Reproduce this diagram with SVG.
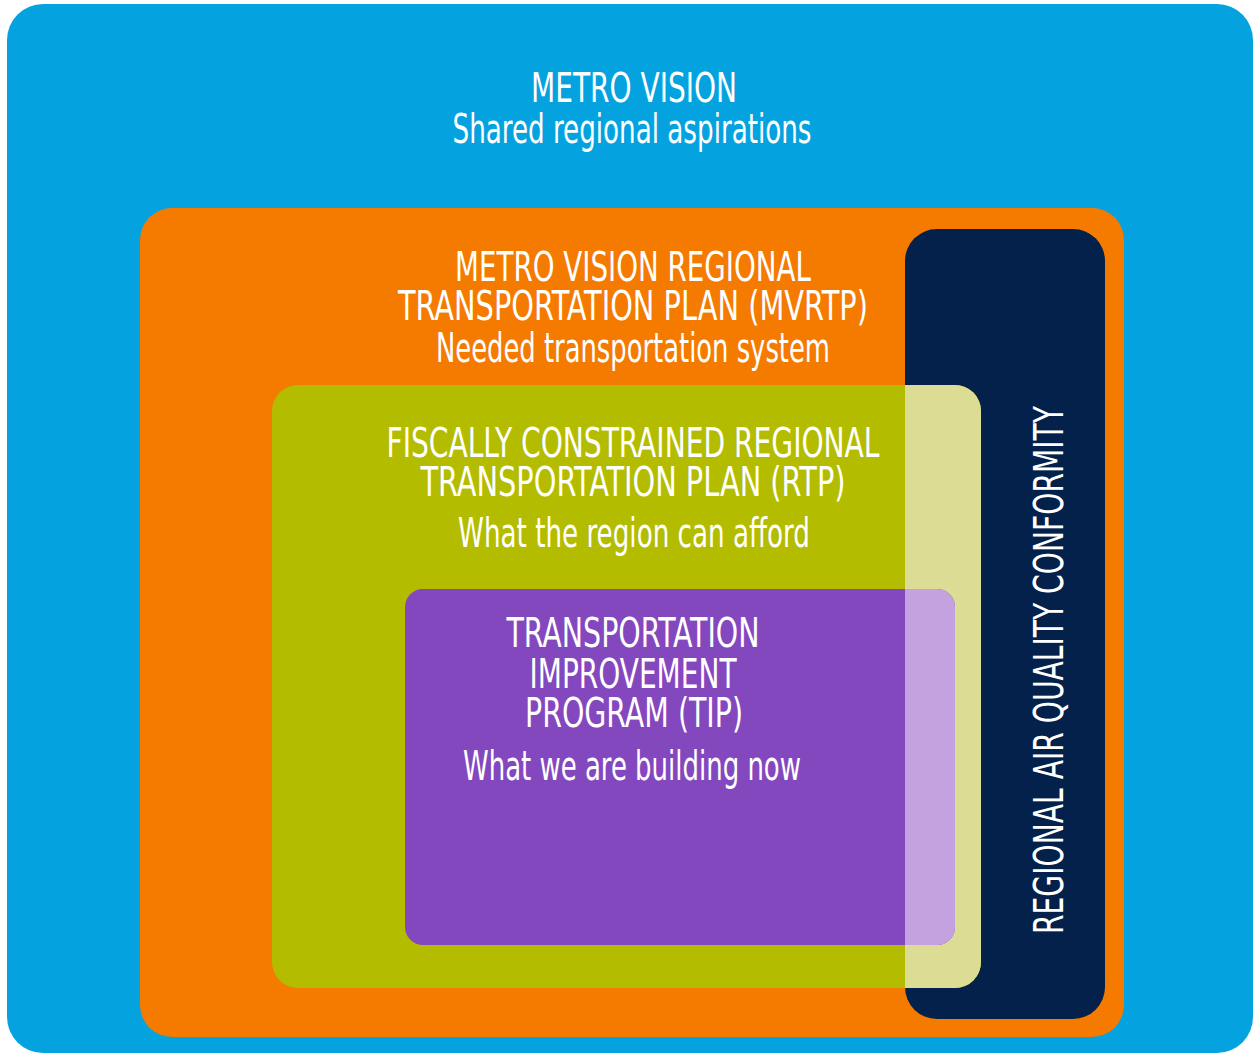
<svg xmlns="http://www.w3.org/2000/svg" width="1253" height="1053" viewBox="0 0 1253 1053">
  <style>
    .t { font-family: "Liberation Sans Narrow", "DejaVu Sans Condensed", "Liberation Sans", sans-serif; fill: #ffffff; text-anchor: middle; font-size: 41px; }
  </style>
  <defs>
    <clipPath id="navyClip">
      <rect x="905" y="229" width="200" height="790" rx="32" ry="32"/>
    </clipPath>
  </defs>
  <rect x="0" y="0" width="1253" height="1053" fill="#ffffff"/>
  <g id="metro-vision">
    <rect x="7" y="4" width="1246" height="1049" rx="36" ry="36" fill="#04A3E0"/>
    <text class="t"><tspan x="634" y="102" textLength="206" lengthAdjust="spacingAndGlyphs">METRO VISION</tspan><tspan x="632" y="143" textLength="359" lengthAdjust="spacingAndGlyphs">Shared regional aspirations</tspan></text>
  </g>
  <g id="mvrtp">
    <rect x="140" y="208" width="984" height="829" rx="32" ry="32" fill="#F57A00"/>
    <text class="t"><tspan x="633" y="281" textLength="356" lengthAdjust="spacingAndGlyphs">METRO VISION REGIONAL</tspan><tspan x="633" y="320" textLength="470" lengthAdjust="spacingAndGlyphs">TRANSPORTATION PLAN (MVRTP)</tspan><tspan x="633" y="362" textLength="394" lengthAdjust="spacingAndGlyphs">Needed transportation system</tspan></text>
  </g>
  <g id="air-quality">
    <rect x="905" y="229" width="200" height="790" rx="32" ry="32" fill="#03214B"/>
    <text class="t" transform="translate(1063,670) rotate(-90)" x="0" y="0" textLength="528" lengthAdjust="spacingAndGlyphs">REGIONAL AIR QUALITY CONFORMITY</text>
  </g>
  <g id="rtp">
    <rect x="272" y="385" width="709" height="603" rx="26" ry="26" fill="#B4BC00"/>
    <rect x="272" y="385" width="709" height="603" rx="26" ry="26" fill="#DCDC95" clip-path="url(#navyClip)"/>
    <text class="t"><tspan x="633" y="457" textLength="493" lengthAdjust="spacingAndGlyphs">FISCALLY CONSTRAINED REGIONAL</tspan><tspan x="633" y="496" textLength="425" lengthAdjust="spacingAndGlyphs">TRANSPORTATION PLAN (RTP)</tspan><tspan x="634" y="547" textLength="352" lengthAdjust="spacingAndGlyphs">What the region can afford</tspan></text>
  </g>
  <g id="tip">
    <rect x="405" y="589" width="550" height="356" rx="18" ry="18" fill="#8448BE"/>
    <rect x="405" y="589" width="550" height="356" rx="18" ry="18" fill="#C3A2DF" clip-path="url(#navyClip)"/>
    <text class="t"><tspan x="633" y="647" textLength="253" lengthAdjust="spacingAndGlyphs">TRANSPORTATION</tspan><tspan x="633" y="688" textLength="207" lengthAdjust="spacingAndGlyphs">IMPROVEMENT</tspan><tspan x="634" y="727" textLength="218" lengthAdjust="spacingAndGlyphs">PROGRAM (TIP)</tspan><tspan x="632" y="780" textLength="338" lengthAdjust="spacingAndGlyphs">What we are building now</tspan></text>
  </g>
  <g id="connectors"></g>
</svg>
